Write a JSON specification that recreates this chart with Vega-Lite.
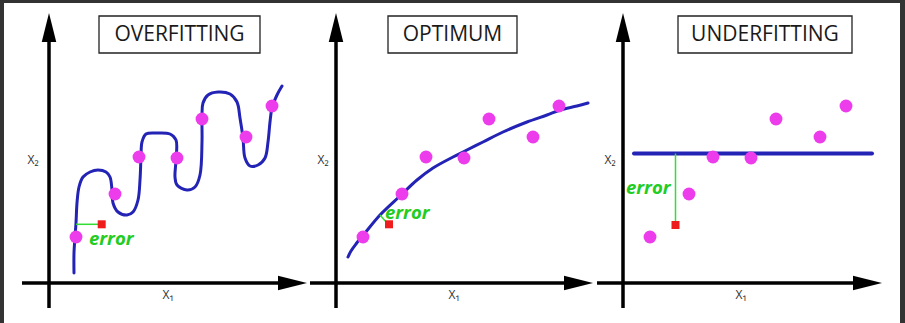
{
  "$schema": "https://vega.github.io/schema/vega-lite/v6.json",
  "background": "#333333",
  "padding": {"left": 4, "top": 3, "right": 5, "bottom": 0},
  "spacing": 0,
  "config": {"view": {"fill": "white", "stroke": null}},
  "datasets": {
    "points": [
      {"x": 27, "y": 46}, {"x": 66, "y": 89}, {"x": 90, "y": 126}, {"x": 128, "y": 125},
      {"x": 153, "y": 164}, {"x": 197, "y": 146}, {"x": 223, "y": 177}
    ],
    "boxes": [
      {"panel": "OVERFITTING", "x": 50, "x2": 211, "y": 230, "y2": 267},
      {"panel": "OPTIMUM", "x": 52, "x2": 181, "y": 230, "y2": 267},
      {"panel": "UNDERFITTING", "x": 55, "x2": 229, "y": 230, "y2": 267}
    ],
    "titles": [
      {"panel": "OVERFITTING", "x": 130.5, "y": 248.5, "text": "OVERFITTING"},
      {"panel": "OPTIMUM", "x": 116.5, "y": 248.5, "text": "OPTIMUM"},
      {"panel": "UNDERFITTING", "x": 142, "y": 248.5, "text": "UNDERFITTING"}
    ],
    "axes": [
      {"panel": "OVERFITTING", "x": -27, "x2": 230, "y": 0, "y2": 0},
      {"panel": "OVERFITTING", "x": 0, "x2": 0, "y": -25, "y2": 242},
      {"panel": "OPTIMUM", "x": -26, "x2": 229, "y": 0, "y2": 0},
      {"panel": "OPTIMUM", "x": 0, "x2": 0, "y": -25, "y2": 242},
      {"panel": "UNDERFITTING", "x": -26, "x2": 231, "y": 0, "y2": 0},
      {"panel": "UNDERFITTING", "x": 0, "x2": 0, "y": -25, "y2": 242}
    ],
    "arrows": [
      {"panel": "OVERFITTING", "x": 243.5, "y": 0, "dir": "right"},
      {"panel": "OVERFITTING", "x": 0, "y": 255.5, "dir": "up"},
      {"panel": "OPTIMUM", "x": 242.5, "y": 0, "dir": "right"},
      {"panel": "OPTIMUM", "x": 0, "y": 255.5, "dir": "up"},
      {"panel": "UNDERFITTING", "x": 244.5, "y": 0, "dir": "right"},
      {"panel": "UNDERFITTING", "x": 0, "y": 255.5, "dir": "up"}
    ],
    "labels": [
      {"panel": "OVERFITTING", "x": 119, "y": -12, "text": "X₁"},
      {"panel": "OVERFITTING", "x": -16, "y": 123, "text": "X₂"},
      {"panel": "OPTIMUM", "x": 118, "y": -12, "text": "X₁"},
      {"panel": "OPTIMUM", "x": -13, "y": 123, "text": "X₂"},
      {"panel": "UNDERFITTING", "x": 118, "y": -12, "text": "X₁"},
      {"panel": "UNDERFITTING", "x": -13, "y": 123, "text": "X₂"}
    ],
    "fits": [
      {"panel": "OVERFITTING", "o": 1, "x": 25, "y": 10},
      {"panel": "OVERFITTING", "o": 2, "x": 25, "y": 30},
      {"panel": "OVERFITTING", "o": 3, "x": 26, "y": 46},
      {"panel": "OVERFITTING", "o": 4, "x": 27, "y": 60},
      {"panel": "OVERFITTING", "o": 5, "x": 28, "y": 80},
      {"panel": "OVERFITTING", "o": 6, "x": 30, "y": 96},
      {"panel": "OVERFITTING", "o": 7, "x": 34, "y": 106},
      {"panel": "OVERFITTING", "o": 8, "x": 41, "y": 111},
      {"panel": "OVERFITTING", "o": 9, "x": 49, "y": 113},
      {"panel": "OVERFITTING", "o": 10, "x": 57, "y": 111},
      {"panel": "OVERFITTING", "o": 11, "x": 61, "y": 106},
      {"panel": "OVERFITTING", "o": 12, "x": 63, "y": 93},
      {"panel": "OVERFITTING", "o": 13, "x": 64, "y": 80},
      {"panel": "OVERFITTING", "o": 14, "x": 69, "y": 71},
      {"panel": "OVERFITTING", "o": 15, "x": 78, "y": 68},
      {"panel": "OVERFITTING", "o": 16, "x": 84, "y": 71},
      {"panel": "OVERFITTING", "o": 17, "x": 89, "y": 83},
      {"panel": "OVERFITTING", "o": 18, "x": 91, "y": 103},
      {"panel": "OVERFITTING", "o": 19, "x": 92, "y": 126},
      {"panel": "OVERFITTING", "o": 20, "x": 93, "y": 141},
      {"panel": "OVERFITTING", "o": 21, "x": 97, "y": 149},
      {"panel": "OVERFITTING", "o": 22, "x": 108, "y": 150},
      {"panel": "OVERFITTING", "o": 23, "x": 121, "y": 149},
      {"panel": "OVERFITTING", "o": 24, "x": 127, "y": 143},
      {"panel": "OVERFITTING", "o": 25, "x": 127, "y": 123},
      {"panel": "OVERFITTING", "o": 26, "x": 126, "y": 106},
      {"panel": "OVERFITTING", "o": 27, "x": 128, "y": 98},
      {"panel": "OVERFITTING", "o": 28, "x": 138, "y": 93},
      {"panel": "OVERFITTING", "o": 29, "x": 146, "y": 96},
      {"panel": "OVERFITTING", "o": 30, "x": 151, "y": 108},
      {"panel": "OVERFITTING", "o": 31, "x": 153, "y": 141},
      {"panel": "OVERFITTING", "o": 32, "x": 153, "y": 168},
      {"panel": "OVERFITTING", "o": 33, "x": 154, "y": 180},
      {"panel": "OVERFITTING", "o": 34, "x": 159, "y": 188},
      {"panel": "OVERFITTING", "o": 35, "x": 169, "y": 191},
      {"panel": "OVERFITTING", "o": 36, "x": 181, "y": 189},
      {"panel": "OVERFITTING", "o": 37, "x": 188, "y": 181},
      {"panel": "OVERFITTING", "o": 38, "x": 191, "y": 165},
      {"panel": "OVERFITTING", "o": 39, "x": 194, "y": 145},
      {"panel": "OVERFITTING", "o": 40, "x": 196, "y": 125},
      {"panel": "OVERFITTING", "o": 41, "x": 201, "y": 117},
      {"panel": "OVERFITTING", "o": 42, "x": 209, "y": 118},
      {"panel": "OVERFITTING", "o": 43, "x": 216, "y": 125},
      {"panel": "OVERFITTING", "o": 44, "x": 219, "y": 141},
      {"panel": "OVERFITTING", "o": 45, "x": 221, "y": 161},
      {"panel": "OVERFITTING", "o": 46, "x": 223, "y": 175},
      {"panel": "OVERFITTING", "o": 47, "x": 228, "y": 188},
      {"panel": "OVERFITTING", "o": 48, "x": 233, "y": 197},
      {"panel": "OPTIMUM", "o": 1, "x": 12, "y": 26},
      {"panel": "OPTIMUM", "o": 2, "x": 15, "y": 32},
      {"panel": "OPTIMUM", "o": 3, "x": 20, "y": 39},
      {"panel": "OPTIMUM", "o": 4, "x": 29, "y": 50},
      {"panel": "OPTIMUM", "o": 5, "x": 44, "y": 68},
      {"panel": "OPTIMUM", "o": 6, "x": 64, "y": 87},
      {"panel": "OPTIMUM", "o": 7, "x": 81, "y": 103},
      {"panel": "OPTIMUM", "o": 8, "x": 97, "y": 115},
      {"panel": "OPTIMUM", "o": 9, "x": 117, "y": 126},
      {"panel": "OPTIMUM", "o": 10, "x": 127, "y": 131},
      {"panel": "OPTIMUM", "o": 11, "x": 147, "y": 141},
      {"panel": "OPTIMUM", "o": 12, "x": 167, "y": 151},
      {"panel": "OPTIMUM", "o": 13, "x": 191, "y": 161},
      {"panel": "OPTIMUM", "o": 14, "x": 211, "y": 168},
      {"panel": "OPTIMUM", "o": 15, "x": 224, "y": 173},
      {"panel": "OPTIMUM", "o": 16, "x": 241, "y": 177},
      {"panel": "OPTIMUM", "o": 17, "x": 252, "y": 180},
      {"panel": "UNDERFITTING", "o": 1, "x": 11, "y": 129.5},
      {"panel": "UNDERFITTING", "o": 2, "x": 249, "y": 129.5}
    ],
    "errlines": [
      {"panel": "OVERFITTING", "x": 27, "y": 58.7, "x2": 50, "y2": 58.7},
      {"panel": "OPTIMUM", "x": 44, "y": 68, "x2": 51, "y2": 60},
      {"panel": "UNDERFITTING", "x": 52.5, "y": 58, "x2": 52.5, "y2": 129.5}
    ],
    "squares": [
      {"panel": "OVERFITTING", "x": 52.7, "y": 58.7},
      {"panel": "OPTIMUM", "x": 53, "y": 58.7},
      {"panel": "UNDERFITTING", "x": 52.5, "y": 58}
    ],
    "errtext": [
      {"panel": "OVERFITTING", "x": 40, "y": 44, "text": "error"},
      {"panel": "OPTIMUM", "x": 49, "y": 69.7, "text": "error"},
      {"panel": "UNDERFITTING", "x": 3, "y": 94.7, "text": "error"}
    ]
  },
  "hconcat": [
    {
      "width": 303, "height": 320,
      "encoding": {
        "x": {"field": "x", "type": "quantitative", "scale": {"domain": [-45, 258], "nice": false, "zero": false}, "axis": null},
        "y": {"field": "y", "type": "quantitative", "scale": {"domain": [-40, 280], "nice": false, "zero": false}, "axis": null}
      },
      "layer": [
        {"data": {"name": "boxes"}, "transform": [{"filter": {"field": "panel", "equal": "OVERFITTING"}}],
         "mark": {"type": "rect", "fill": "white", "stroke": "#222222", "strokeWidth": 1.3},
         "encoding": {"x2": {"field": "x2"}, "y2": {"field": "y2"}}},
        {"data": {"name": "titles"}, "transform": [{"filter": {"field": "panel", "equal": "OVERFITTING"}}],
         "mark": {"type": "text", "font": "Open Sans", "fontSize": 21, "color": "#1a1a1a", "align": "center", "baseline": "middle"},
         "encoding": {"text": {"field": "text"}}},
        {"data": {"name": "axes"}, "transform": [{"filter": {"field": "panel", "equal": "OVERFITTING"}}],
         "mark": {"type": "rule", "color": "black", "strokeWidth": 3.5},
         "encoding": {"x2": {"field": "x2"}, "y2": {"field": "y2"}}},
        {"data": {"name": "arrows"}, "transform": [{"filter": {"field": "panel", "equal": "OVERFITTING"}}],
         "mark": {"type": "point", "filled": true, "color": "black", "opacity": 1, "size": 841},
         "encoding": {"shape": {"field": "dir", "type": "nominal", "scale": {"domain": ["up", "right"], "range": ["M0,-1L0.5,1L-0.5,1Z", "M1,0L-1,0.5L-1,-0.5Z"]}, "legend": null}}},
        {"data": {"name": "labels"}, "transform": [{"filter": {"field": "panel", "equal": "OVERFITTING"}}],
         "mark": {"type": "text", "font": "Open Sans", "fontSize": 12, "color": "#333333", "align": "center", "baseline": "middle"},
         "encoding": {"text": {"field": "text"}}},
        {"data": {"name": "fits"}, "transform": [{"filter": {"field": "panel", "equal": "OVERFITTING"}}],
         "mark": {"type": "line", "color": "#2323b5", "strokeWidth": 3, "interpolate": "catmull-rom", "strokeCap": "round"},
         "encoding": {"order": {"field": "o", "type": "quantitative"}}},
        {"data": {"name": "errlines"}, "transform": [{"filter": {"field": "panel", "equal": "OVERFITTING"}}],
         "mark": {"type": "rule", "color": "#33dd33", "strokeWidth": 1.5},
         "encoding": {"x2": {"field": "x2"}, "y2": {"field": "y2"}}},
        {"data": {"name": "points"},
         "mark": {"type": "circle", "color": "#ec3cec", "opacity": 1, "size": 165}},
        {"data": {"name": "squares"}, "transform": [{"filter": {"field": "panel", "equal": "OVERFITTING"}}],
         "mark": {"type": "square", "color": "#ee1c1c", "opacity": 1, "size": 64}},
        {"data": {"name": "errtext"}, "transform": [{"filter": {"field": "panel", "equal": "OVERFITTING"}}],
         "mark": {"type": "text", "font": "Open Sans", "fontSize": 18.5, "fontWeight": "bold", "fontStyle": "italic", "color": "#22cc22", "align": "left", "baseline": "middle"},
         "encoding": {"text": {"field": "text"}}}
      ]
    },
    {
      "width": 287, "height": 320,
      "encoding": {
        "x": {"field": "x", "type": "quantitative", "scale": {"domain": [-29, 258], "nice": false, "zero": false}, "axis": null},
        "y": {"field": "y", "type": "quantitative", "scale": {"domain": [-40, 280], "nice": false, "zero": false}, "axis": null}
      },
      "layer": [
        {"data": {"name": "boxes"}, "transform": [{"filter": {"field": "panel", "equal": "OPTIMUM"}}],
         "mark": {"type": "rect", "fill": "white", "stroke": "#222222", "strokeWidth": 1.3},
         "encoding": {"x2": {"field": "x2"}, "y2": {"field": "y2"}}},
        {"data": {"name": "titles"}, "transform": [{"filter": {"field": "panel", "equal": "OPTIMUM"}}],
         "mark": {"type": "text", "font": "Open Sans", "fontSize": 21, "color": "#1a1a1a", "align": "center", "baseline": "middle"},
         "encoding": {"text": {"field": "text"}}},
        {"data": {"name": "axes"}, "transform": [{"filter": {"field": "panel", "equal": "OPTIMUM"}}],
         "mark": {"type": "rule", "color": "black", "strokeWidth": 3.5},
         "encoding": {"x2": {"field": "x2"}, "y2": {"field": "y2"}}},
        {"data": {"name": "arrows"}, "transform": [{"filter": {"field": "panel", "equal": "OPTIMUM"}}],
         "mark": {"type": "point", "filled": true, "color": "black", "opacity": 1, "size": 841},
         "encoding": {"shape": {"field": "dir", "type": "nominal", "scale": {"domain": ["up", "right"], "range": ["M0,-1L0.5,1L-0.5,1Z", "M1,0L-1,0.5L-1,-0.5Z"]}, "legend": null}}},
        {"data": {"name": "labels"}, "transform": [{"filter": {"field": "panel", "equal": "OPTIMUM"}}],
         "mark": {"type": "text", "font": "Open Sans", "fontSize": 12, "color": "#333333", "align": "center", "baseline": "middle"},
         "encoding": {"text": {"field": "text"}}},
        {"data": {"name": "fits"}, "transform": [{"filter": {"field": "panel", "equal": "OPTIMUM"}}],
         "mark": {"type": "line", "color": "#2323b5", "strokeWidth": 3, "interpolate": "catmull-rom", "strokeCap": "round"},
         "encoding": {"order": {"field": "o", "type": "quantitative"}}},
        {"data": {"name": "errlines"}, "transform": [{"filter": {"field": "panel", "equal": "OPTIMUM"}}],
         "mark": {"type": "rule", "color": "#33dd33", "strokeWidth": 1.5},
         "encoding": {"x2": {"field": "x2"}, "y2": {"field": "y2"}}},
        {"data": {"name": "points"},
         "mark": {"type": "circle", "color": "#ec3cec", "opacity": 1, "size": 165}},
        {"data": {"name": "squares"}, "transform": [{"filter": {"field": "panel", "equal": "OPTIMUM"}}],
         "mark": {"type": "square", "color": "#ee1c1c", "opacity": 1, "size": 64}},
        {"data": {"name": "errtext"}, "transform": [{"filter": {"field": "panel", "equal": "OPTIMUM"}}],
         "mark": {"type": "text", "font": "Open Sans", "fontSize": 18.5, "fontWeight": "bold", "fontStyle": "italic", "color": "#22cc22", "align": "left", "baseline": "middle"},
         "encoding": {"text": {"field": "text"}}}
      ]
    },
    {
      "width": 306, "height": 320,
      "encoding": {
        "x": {"field": "x", "type": "quantitative", "scale": {"domain": [-29, 277], "nice": false, "zero": false}, "axis": null},
        "y": {"field": "y", "type": "quantitative", "scale": {"domain": [-40, 280], "nice": false, "zero": false}, "axis": null}
      },
      "layer": [
        {"data": {"name": "boxes"}, "transform": [{"filter": {"field": "panel", "equal": "UNDERFITTING"}}],
         "mark": {"type": "rect", "fill": "white", "stroke": "#222222", "strokeWidth": 1.3},
         "encoding": {"x2": {"field": "x2"}, "y2": {"field": "y2"}}},
        {"data": {"name": "titles"}, "transform": [{"filter": {"field": "panel", "equal": "UNDERFITTING"}}],
         "mark": {"type": "text", "font": "Open Sans", "fontSize": 21, "color": "#1a1a1a", "align": "center", "baseline": "middle"},
         "encoding": {"text": {"field": "text"}}},
        {"data": {"name": "axes"}, "transform": [{"filter": {"field": "panel", "equal": "UNDERFITTING"}}],
         "mark": {"type": "rule", "color": "black", "strokeWidth": 3.5},
         "encoding": {"x2": {"field": "x2"}, "y2": {"field": "y2"}}},
        {"data": {"name": "arrows"}, "transform": [{"filter": {"field": "panel", "equal": "UNDERFITTING"}}],
         "mark": {"type": "point", "filled": true, "color": "black", "opacity": 1, "size": 841},
         "encoding": {"shape": {"field": "dir", "type": "nominal", "scale": {"domain": ["up", "right"], "range": ["M0,-1L0.5,1L-0.5,1Z", "M1,0L-1,0.5L-1,-0.5Z"]}, "legend": null}}},
        {"data": {"name": "labels"}, "transform": [{"filter": {"field": "panel", "equal": "UNDERFITTING"}}],
         "mark": {"type": "text", "font": "Open Sans", "fontSize": 12, "color": "#333333", "align": "center", "baseline": "middle"},
         "encoding": {"text": {"field": "text"}}},
        {"data": {"name": "fits"}, "transform": [{"filter": {"field": "panel", "equal": "UNDERFITTING"}}],
         "mark": {"type": "line", "color": "#2323b5", "strokeWidth": 4, "strokeCap": "round"},
         "encoding": {"order": {"field": "o", "type": "quantitative"}}},
        {"data": {"name": "errlines"}, "transform": [{"filter": {"field": "panel", "equal": "UNDERFITTING"}}],
         "mark": {"type": "rule", "color": "#33dd33", "strokeWidth": 1.5},
         "encoding": {"x2": {"field": "x2"}, "y2": {"field": "y2"}}},
        {"data": {"name": "points"},
         "mark": {"type": "circle", "color": "#ec3cec", "opacity": 1, "size": 165}},
        {"data": {"name": "squares"}, "transform": [{"filter": {"field": "panel", "equal": "UNDERFITTING"}}],
         "mark": {"type": "square", "color": "#ee1c1c", "opacity": 1, "size": 64}},
        {"data": {"name": "errtext"}, "transform": [{"filter": {"field": "panel", "equal": "UNDERFITTING"}}],
         "mark": {"type": "text", "font": "Open Sans", "fontSize": 18.5, "fontWeight": "bold", "fontStyle": "italic", "color": "#22cc22", "align": "left", "baseline": "middle"},
         "encoding": {"text": {"field": "text"}}}
      ]
    }
  ]
}
